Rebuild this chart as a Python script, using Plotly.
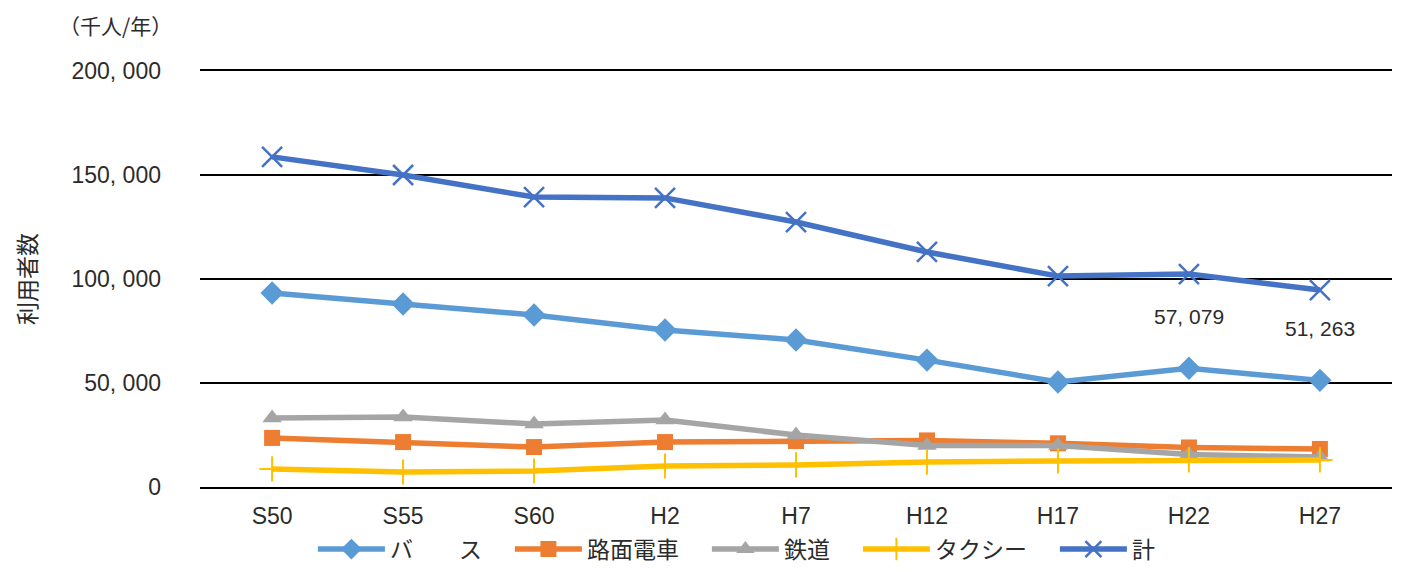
import plotly.graph_objects as go

# 年次（昭和・平成）
years = ["S50", "S55", "S60", "H2", "H7", "H12", "H17", "H22", "H27"]

# 交通手段別の年間利用者数（千人/年）
bus = [93300, 88000, 82700, 75500, 70700, 61000, 50500, 57079, 51263]
tram = [23600, 21600, 19200, 21600, 22100, 22400, 21000, 19000, 18300]
rail = [33200, 33700, 30300, 32200, 25000, 20000, 20000, 15600, 14400]
taxi = [8700, 7200, 7700, 10100, 10600, 12000, 12500, 13000, 13000]
total = [158700, 150000, 139400, 139000, 127400, 113000, 101400, 102400, 94700]

y_ticks = [0, 50000, 100000, 150000, 200000]
y_tick_text = ["0", "50, 000", "100, 000", "150, 000", "200, 000"]

# 数値ラベルを付ける年次
label_years = ["H22", "H27"]

JP = "Noto Sans CJK JP"
NUM = "Liberation Sans, Arial"
INK = "#2b2b2b"
PAD = "\u3000"  # 凡例項目間の余白

series = [
    ("バ　　ス" + PAD, bus, "#5B9BD5", dict(symbol="diamond", size=18)),
    ("路面電車" + PAD, tram, "#ED7D31", dict(symbol="square", size=16)),
    ("鉄道" + PAD, rail, "#A5A5A5", dict(symbol="triangle-up", size=17)),
    ("タクシー" + PAD, taxi, "#FFC000", dict(symbol="cross-thin", size=18, line=dict(width=2, color="#FFC000"))),
    ("計", total, "#4472C4", dict(symbol="x-thin", size=20, line=dict(width=2.5, color="#4472C4"))),
]

fig = go.Figure()
for name, vals, color, mk in series:
    fig.add_trace(go.Scatter(
        x=years, y=vals, name=name, mode="lines+markers",
        line=dict(color=color, width=5.5),
        marker=dict(color=color, **mk),
    ))

for yr in label_years:
    v = bus[years.index(yr)]
    fig.add_annotation(
        x=yr, y=v, text=f"{v:,}".replace(",", ", "), showarrow=False,
        yshift=52, font=dict(family=NUM, size=21, color=INK),
    )

fig.add_annotation(
    xref="paper", yref="paper", x=-0.022, y=1.11, xanchor="right", yanchor="middle",
    text="（千人/年）", showarrow=False, font=dict(family=JP, size=21, color=INK),
)

fig.update_layout(
    width=1402, height=572,
    margin=dict(l=200, r=10, t=71, b=85, autoexpand=False),
    paper_bgcolor="white", plot_bgcolor="white",
    font=dict(family=JP, size=23, color=INK),
    showlegend=True,
    legend=dict(
        orientation="h", x=0.45, xanchor="center",
        yref="container", y=0.04, yanchor="middle",
        font=dict(family=JP, size=23, color=INK),
        itemwidth=67, tracegroupgap=0,
    ),
    xaxis=dict(
        showgrid=False, zeroline=False,
        showline=True, mirror=True, linecolor="#000000", linewidth=1.5,
        tickfont=dict(family=NUM, size=23, color=INK),
        ticks="", ticklabelstandoff=8,
    ),
    yaxis=dict(
        range=[0, 200000], tickvals=y_ticks, ticktext=y_tick_text,
        showgrid=True, gridcolor="#000000", gridwidth=1.5,
        zeroline=False, showline=False,
        tickfont=dict(family=NUM, size=23, color=INK),
        ticks="", ticklabelstandoff=38,
        title=dict(text="利用者数", font=dict(family=JP, size=23, color=INK), standoff=28),
    ),
)

fig.write_html("out.html")
